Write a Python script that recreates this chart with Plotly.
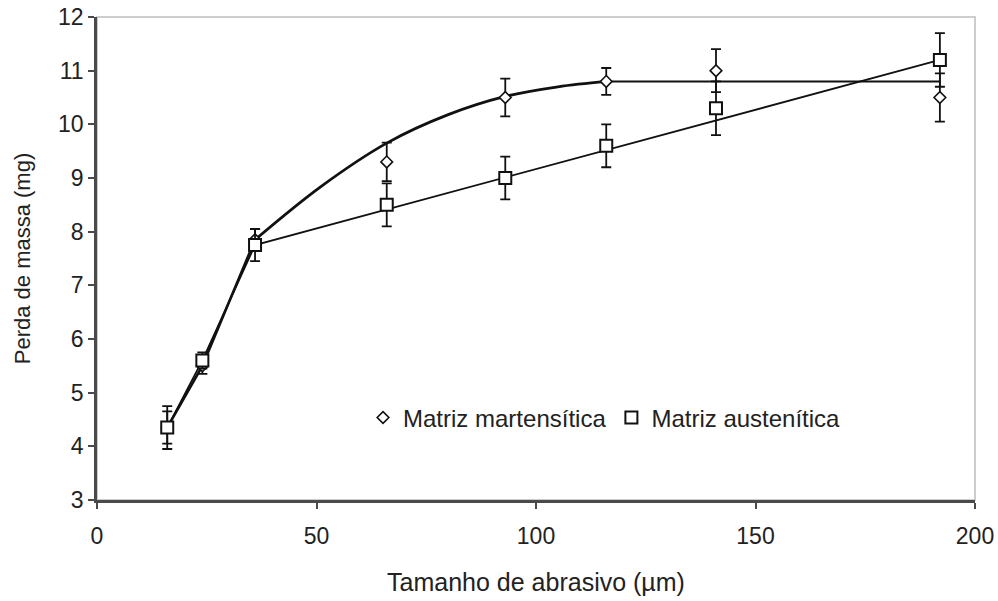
import plotly.graph_objects as go

# Abrasive size (µm)
abrasive = [16, 24, 36, 66, 93, 116, 141, 192]

# Mass loss (mg) and standard deviations
mart_loss = [4.35, 5.5, 7.85, 9.3, 10.5, 10.8, 11.0, 10.5]
mart_err = [0.4, 0.15, 0.2, 0.36, 0.35, 0.25, 0.4, 0.45]
aus_loss = [4.35, 5.6, 7.75, 8.5, 9.0, 9.6, 10.3, 11.2]
aus_err = [0.3, 0.15, 0.3, 0.4, 0.4, 0.4, 0.5, 0.5]

# Trend line for the martensitic matrix: straight start, curved rise, plateau
mart_start_x = [16, 24, 36]
mart_start_y = [4.35, 5.5, 7.85]
mart_curve_x = [36, 51, 66, 80, 93, 105, 116]
mart_curve_y = [7.85, 8.84, 9.65, 10.18, 10.52, 10.7, 10.8]
mart_plateau_x = [116, 192]
mart_plateau_y = [10.8, 10.8]

# Trend line for the austenitic matrix
aus_fit_x = [16, 24, 36, 192]
aus_fit_y = [4.35, 5.6, 7.75, 11.2]

FONT = "Liberation Sans, Arial, sans-serif"
INK = "#111111"

fig = go.Figure()

fig.add_trace(go.Scatter(x=aus_fit_x, y=aus_fit_y, mode="lines",
                         line=dict(color=INK, width=1.8), showlegend=False,
                         hoverinfo="skip"))
fig.add_trace(go.Scatter(x=mart_start_x, y=mart_start_y, mode="lines",
                         line=dict(color=INK, width=2.6), showlegend=False,
                         hoverinfo="skip"))
fig.add_trace(go.Scatter(x=mart_curve_x, y=mart_curve_y, mode="lines",
                         line=dict(color=INK, width=2.8, shape="spline", smoothing=1.0),
                         showlegend=False, hoverinfo="skip"))
fig.add_trace(go.Scatter(x=mart_plateau_x, y=mart_plateau_y, mode="lines",
                         line=dict(color=INK, width=2.0), showlegend=False,
                         hoverinfo="skip"))

fig.add_trace(go.Scatter(
    x=abrasive, y=mart_loss, mode="markers", name="Matriz martensítica",
    marker=dict(symbol="diamond", size=9, color="white",
                line=dict(color=INK, width=1.6)),
    error_y=dict(type="data", array=mart_err, visible=True,
                 color=INK, thickness=1.8, width=5),
))
fig.add_trace(go.Scatter(
    x=abrasive, y=aus_loss, mode="markers", name="Matriz austenítica",
    marker=dict(symbol="square", size=12, color="white",
                line=dict(color=INK, width=2)),
    error_y=dict(type="data", array=aus_err, visible=True,
                 color=INK, thickness=1.8, width=5),
))

# Light frame on the top and right of the plot area
fig.add_shape(type="rect", xref="paper", yref="paper", x0=0, y0=0, x1=1, y1=1,
              line=dict(color="#bdbdbd", width=1.5), layer="below")

fig.update_layout(
    width=998, height=601,
    margin=dict(l=97, r=23, t=17, b=101),
    paper_bgcolor="white", plot_bgcolor="white",
    font=dict(family=FONT, color="#222222", size=23),
    showlegend=True,
    legend=dict(orientation="h", x=0.303, y=0.17, xanchor="left", yanchor="middle",
                bgcolor="rgba(0,0,0,0)", font=dict(size=24, family=FONT, color="#222222"),
                itemwidth=30, itemclick=False),
    xaxis=dict(range=[0, 200], tickvals=[0, 50, 100, 150, 200], automargin=False,
               showgrid=False, zeroline=False, showline=True,
               linecolor="#4a4a4a", linewidth=2.5,
               ticks="outside", ticklen=6, tickwidth=1.5, tickcolor="#4a4a4a",
               tickfont=dict(size=23), ticklabelstandoff=8,
               title=dict(text="Tamanho de abrasivo (µm)", font=dict(size=25), standoff=26)),
    yaxis=dict(range=[3, 12], dtick=1, automargin=False,
               showgrid=False, zeroline=False, showline=True,
               linecolor="#4a4a4a", linewidth=2.5,
               ticks="outside", ticklen=6, tickwidth=1.5, tickcolor="#4a4a4a",
               tickfont=dict(size=23),
               title=dict(text="Perda de massa (mg)", font=dict(size=22), standoff=22)),
)

fig.write_html("out.html")
